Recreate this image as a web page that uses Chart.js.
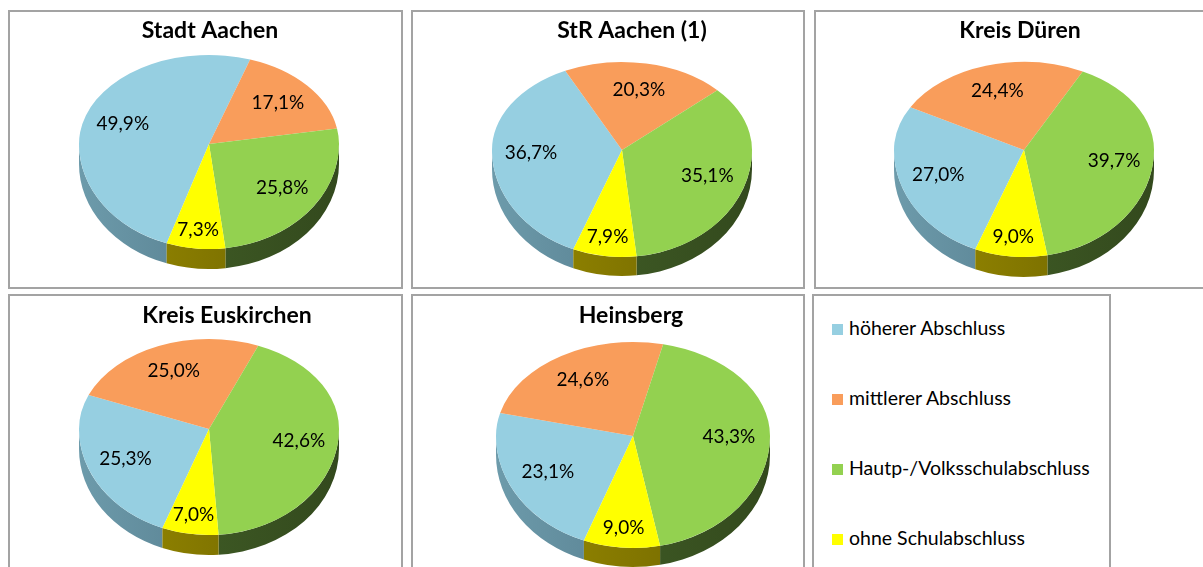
<!DOCTYPE html>
<html lang="de">
<head>
  <meta charset="UTF-8">
  <meta name="viewport" content="width=device-width, initial-scale=1.0">
  <title>Schulabschlüsse</title>
  <style>
    html, body {
      margin: 0;
      overflow: hidden;
      background-color: #fff;
      font-family: Lato, "Open Sans", sans-serif;
    }

    .frame {
      position: absolute;
      box-sizing: border-box;
      border: 2px solid #a3a3a3;
      background-color: #fff;
      overflow: hidden;
    }

    .frame canvas {
      display: block;
    }

    .legend-item {
      position: absolute;
      left: 18px;
      height: 22px;
      line-height: 22px;
      font-size: 19.5px;
      color: #000;
      white-space: nowrap;
    }

    .legend-item span {
      display: inline-block;
      width: 11px;
      height: 11px;
      margin-right: 6px;
      vertical-align: 0px;
    }
  </style>
</head>
<body>
  <div id="page"></div>

  <script src="https://cdn.jsdelivr.net/npm/chart.js"></script>
  <script>
    // Data
    const categories = ['höherer Abschluss', 'mittlerer Abschluss', 'Hautp-/Volksschulabschluss', 'ohne Schulabschluss'];
    const regions = ['Stadt Aachen', 'StR Aachen (1)', 'Kreis Düren', 'Kreis Euskirchen', 'Heinsberg'];
    const stadtAachen = [49.9, 17.1, 25.8, 7.3];
    const strAachen = [36.7, 20.3, 35.1, 7.9];
    const kreisDueren = [27.0, 24.4, 39.7, 9.0];
    const kreisEuskirchen = [25.3, 25.0, 42.6, 7.0];
    const heinsberg = [23.1, 24.6, 43.3, 9.0];
    const seriesList = [stadtAachen, strAachen, kreisDueren, kreisEuskirchen, heinsberg];

    const topColors = ['#96cfe1', '#f99d5b', '#93d150', '#ffff00'];
    const sideLight = ['#6d9bab', '#b26a35', '#46662a', '#9a8c00'];
    const sideDark = ['#46697a', '#8a4f22', '#33491d', '#6b6100'];

    // page positions of the boxes and the pies (absolute px)
    const frames = [
      { left: 8, top: 10, width: 395, height: 279, cx: 209, apex: 144, rx: 130, ryTop: 89, ryBottom: 105, depth: 20, rotation: 199, titleX: 210, titleY: 31 },
      { left: 411, top: 10, width: 394, height: 279, cx: 622, apex: 150, rx: 130, ryTop: 88, ryBottom: 107, depth: 19, rotation: 202, titleX: 632, titleY: 31 },
      { left: 814, top: 10, width: 395, height: 279, cx: 1024, apex: 150, rx: 130, ryTop: 88, ryBottom: 107, depth: 20, rotation: 202, titleX: 1020, titleY: 31 },
      { left: 8, top: 294, width: 395, height: 279, cx: 209, apex: 429, rx: 130, ryTop: 90, ryBottom: 106, depth: 20, rotation: 201, titleX: 227, titleY: 316 },
      { left: 411, top: 294, width: 394, height: 279, cx: 633, apex: 436, rx: 137, ryTop: 94, ryBottom: 112, depth: 19, rotation: 201, titleX: 631, titleY: 316 }
    ];
    const legendFrame = { left: 812, top: 294, width: 299, height: 279 };

    function fmt(v) {
      return v.toFixed(1).replace('.', ',') + '%';
    }

    // fake 3D: side wall below, top face squashed (different scale above/below the apex)
    const pie3d = {
      id: 'pie3d',
      beforeDatasetsDraw(chart, args, g) {
        const ctx = chart.ctx;
        const arcs = chart.getDatasetMeta(0).data;
        arcs.forEach((arc, i) => {
          for (let n = -1; n <= 2; n++) {
            const lo = Math.max(arc.startAngle, 2 * Math.PI * n);
            const hi = Math.min(arc.endAngle, Math.PI + 2 * Math.PI * n);
            if (hi <= lo) continue;
            ctx.beginPath();
            ctx.ellipse(g.cx, g.apex, g.rx, g.ryBottom, 0, lo, hi, false);
            ctx.ellipse(g.cx, g.apex + g.depth, g.rx, g.ryBottom, 0, hi, lo, true);
            ctx.closePath();
            const grad = ctx.createLinearGradient(g.cx - g.rx, 0, g.cx + g.rx, 0);
            grad.addColorStop(0, sideLight[i]);
            grad.addColorStop(1, sideDark[i]);
            ctx.fillStyle = grad;
            ctx.fill();
          }
        });
        // upper half of the top face, drawn by Chart.js itself
        const a = arcs[0];
        ctx.save();
        ctx.beginPath();
        ctx.rect(0, 0, chart.width, g.apex);
        ctx.clip();
        ctx.translate(g.cx, g.apex);
        ctx.scale(1, g.ryTop / a.outerRadius);
        ctx.translate(-a.x, -a.y);
      },
      afterDatasetsDraw(chart, args, g) {
        const ctx = chart.ctx;
        ctx.restore();
        const arcs = chart.getDatasetMeta(0).data;
        const a = arcs[0];
        // lower half
        ctx.save();
        ctx.beginPath();
        ctx.rect(0, g.apex, chart.width, chart.height - g.apex);
        ctx.clip();
        ctx.translate(g.cx, g.apex);
        ctx.scale(1, g.ryBottom / a.outerRadius);
        ctx.translate(-a.x, -a.y);
        arcs.forEach(arc => arc.draw(ctx));
        ctx.restore();

        // value labels
        const values = chart.data.datasets[0].data;
        ctx.save();
        ctx.font = '19px Lato, "Open Sans", sans-serif';
        ctx.fillStyle = '#000';
        ctx.textAlign = 'center';
        ctx.textBaseline = 'middle';
        arcs.forEach((arc, i) => {
          const mid = (arc.startAngle + arc.endAngle) / 2;
          const f = values[i] < 10 ? 0.82 : 0.7;
          const s = Math.sin(mid);
          const x = g.cx + Math.cos(mid) * g.rx * f;
          const y = g.apex + s * (s > 0 ? g.ryBottom : g.ryTop) * f;
          ctx.fillText(fmt(values[i]), x, y);
        });
        ctx.restore();
      }
    };

    const page = document.getElementById('page');

    frames.forEach((fr, idx) => {
      const box = document.createElement('div');
      box.className = 'frame';
      box.style.left = fr.left + 'px';
      box.style.top = fr.top + 'px';
      box.style.width = fr.width + 'px';
      box.style.height = fr.height + 'px';
      const canvas = document.createElement('canvas');
      const w = fr.width - 4, h = fr.height - 4;
      canvas.width = w;
      canvas.height = h;
      box.appendChild(canvas);
      page.appendChild(box);

      // canvas-local coordinates
      const ox = fr.left + 2, oy = fr.top + 2;
      const shift = (fr.titleX - ox) - w / 2;
      const titleSize = 23;
      const titlePadTop = (fr.titleY - oy) - titleSize * 1.2 / 2;

      new Chart(canvas, {
        type: 'pie',
        data: {
          labels: categories,
          datasets: [{
            data: seriesList[idx],
            backgroundColor: topColors,
            borderWidth: 0,
            radius: fr.rx,
            rotation: fr.rotation,
            clip: false
          }]
        },
        options: {
          responsive: false,
          animation: false,
          devicePixelRatio: 1,
          events: [],
          layout: {
            padding: {
              left: shift > 0 ? shift * 2 : 0,
              right: shift < 0 ? -shift * 2 : 0,
              top: 0,
              bottom: 0
            }
          },
          plugins: {
            legend: { display: false },
            tooltip: { enabled: false },
            title: {
              display: true,
              text: regions[idx],
              color: '#000',
              font: { family: 'Lato, "Open Sans", sans-serif', size: titleSize, weight: 'bold', lineHeight: 1.2 },
              padding: { top: titlePadTop, bottom: 4 }
            },
            pie3d: {
              cx: fr.cx - ox,
              apex: fr.apex - oy,
              rx: fr.rx,
              ryTop: fr.ryTop,
              ryBottom: fr.ryBottom,
              depth: fr.depth
            }
          }
        },
        plugins: [pie3d]
      });
    });

    // legend box
    const lg = document.createElement('div');
    lg.className = 'frame';
    lg.style.left = legendFrame.left + 'px';
    lg.style.top = legendFrame.top + 'px';
    lg.style.width = legendFrame.width + 'px';
    lg.style.height = legendFrame.height + 'px';
    categories.forEach((c, i) => {
      const item = document.createElement('div');
      item.className = 'legend-item';
      item.style.top = (21 + i * 70) + 'px';
      const sq = document.createElement('span');
      sq.style.backgroundColor = topColors[i];
      item.appendChild(sq);
      item.appendChild(document.createTextNode(c));
      lg.appendChild(item);
    });
    page.appendChild(lg);
  </script>
</body>
</html>
